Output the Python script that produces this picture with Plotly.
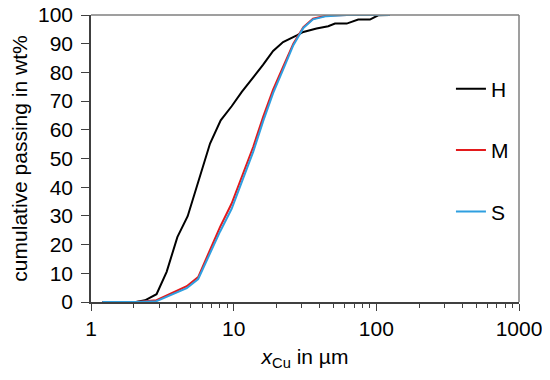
import plotly.graph_objects as go

# Data
h_x = [1.2, 2.07, 2.39, 2.88, 3.39, 4.03, 4.76, 5.64, 6.83, 8.11, 9.68, 11.4, 13.7, 16.1, 18.9,
       22.2, 27.7, 30.8, 38.1, 46.0, 51.3, 62.0, 74.6, 90.2, 103.0, 124.0]
h_y = [0, 0, 0.6, 2.7, 10.5, 22.6, 29.9, 41.8, 55.2, 63.3, 68.2, 73.2, 78.2, 82.7, 87.5,
       90.6, 92.9, 94.1, 95.3, 96.1, 97.0, 97.0, 98.4, 98.4, 99.9, 100]

m_x = [1.2, 2.07, 2.88, 3.88, 4.69, 5.64, 6.63, 8.02, 9.68, 11.4, 13.7, 16.1, 18.9, 22.2,
       26.2, 30.8, 36.0, 44.8, 62.0, 124.0]
m_y = [0, 0, 0.6, 3.5, 5.5, 8.7, 16.6, 26.1, 34.3, 43.6, 54.0, 64.5, 74.0, 81.9,
       90.0, 95.8, 98.7, 99.8, 100, 100]

s_x = [1.2, 2.07, 2.88, 3.88, 4.69, 5.64, 6.63, 8.02, 9.68, 11.4, 13.7, 16.1, 18.9, 22.2,
       26.2, 30.8, 36.0, 44.8, 62.0, 124.0]
s_y = [0, 0, 0.3, 3.0, 4.8, 8.0, 15.5, 24.5, 32.5, 41.8, 52.3, 63.0, 72.8, 81.0,
       89.5, 95.5, 98.5, 99.6, 100, 100]

x_major = [1, 10, 100, 1000]
x_major_text = ["1", "10", "100", "1000"]
x_minor = [m * 10 ** k for k in range(3) for m in range(2, 10)]

FONT = "Liberation Sans, Arial, sans-serif"

fig = go.Figure()
fig.add_trace(go.Scatter(x=h_x, y=h_y, mode="lines", name="H", legendgroup="H",
                         line=dict(color="#000000", width=2)))
fig.add_trace(go.Scatter(x=m_x, y=m_y, mode="lines", name="M", legendgroup="M",
                         line=dict(color="#e31a1c", width=2)))
fig.add_trace(go.Scatter(x=s_x, y=s_y, mode="lines", name="S", legendgroup="S",
                         line=dict(color="#2f9fe0", width=2)))

fig.update_layout(
    width=542, height=372,
    margin=dict(l=83, r=31, t=7, b=78),
    paper_bgcolor="white", plot_bgcolor="white",
    font=dict(family=FONT, size=21, color="#000000"),
    showlegend=True,
    legend=dict(x=0.841, y=0.813, xanchor="left", yanchor="top",
                bgcolor="rgba(0,0,0,0)", tracegroupgap=31, itemwidth=30,
                font=dict(size=21)),
    xaxis=dict(
        type="log", range=[0, 3], automargin=False,
        tickvals=x_major, ticktext=x_major_text,
        ticks="outside", ticklen=7, tickwidth=1.3, tickcolor="#404040",
        minor=dict(tickvals=x_minor, ticks="outside", ticklen=4, tickwidth=1.2, tickcolor="#404040"),
        showline=True, linecolor="#404040", linewidth=1.5,
        showgrid=False, zeroline=False, ticklabeloverflow="allow",
        tickfont=dict(size=21),
        title=dict(text="<i>x</i><sub>Cu</sub> in µm", font=dict(size=21), standoff=10),
    ),
    yaxis=dict(
        range=[0, 100], dtick=10, automargin=False,
        ticks="outside", ticklen=8, tickwidth=1.3, tickcolor="#404040",
        showline=True, linecolor="#404040", linewidth=1.5,
        showgrid=False, zeroline=False, ticklabeloverflow="allow",
        tickfont=dict(size=21), ticklabelstandoff=4,
        title=dict(text="cumulative passing in wt%", font=dict(size=21), standoff=15),
    ),
    shapes=[
        dict(type="line", xref="paper", yref="paper", x0=0, x1=1, y0=1, y1=1,
             line=dict(color="#7f7f7f", width=1.5)),
        dict(type="line", xref="paper", yref="paper", x0=1, x1=1, y0=0, y1=1,
             line=dict(color="#7f7f7f", width=1.5)),
    ],
)

fig.write_html("out.html")
